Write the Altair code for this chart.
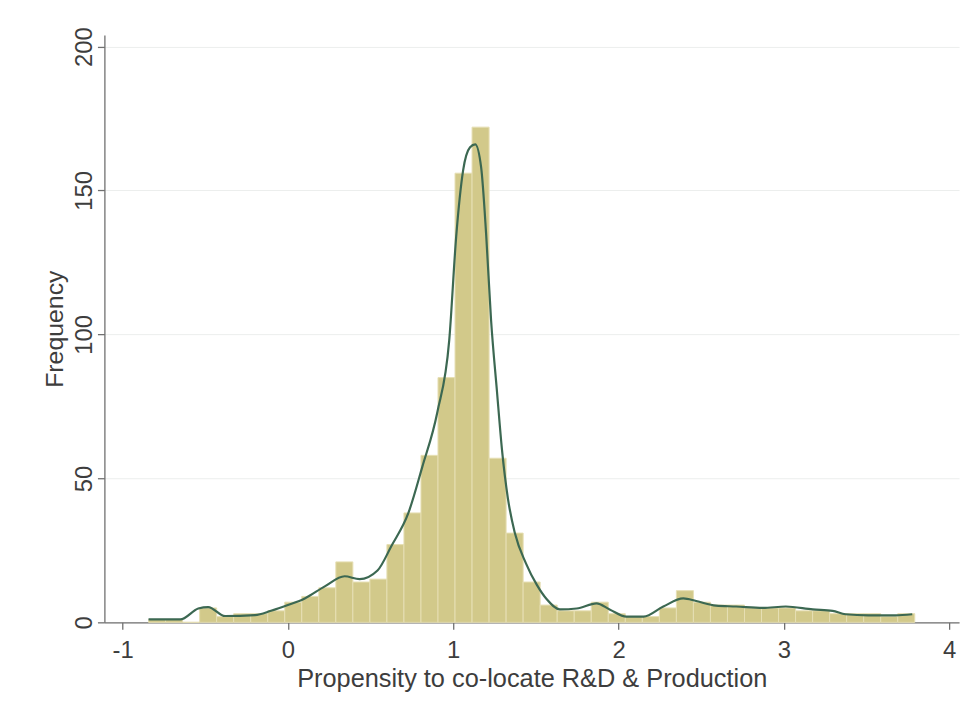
import altair as alt
import pandas as pd

# Histogram: bins of equal width starting at BIN_START
BIN_START = -0.843
BIN_WIDTH = 0.103
FREQ = [1, 1, 0, 5, 2, 3, 3, 4, 7, 9,
        12, 21, 14, 15, 27, 38, 58, 85, 156, 172,
        57, 31, 14, 6, 4, 4, 7, 3, 2, 2,
        5, 11, 7, 6, 6, 5, 5, 5, 4, 4,
        3, 3, 3, 2, 3]

# Kernel density curve (scaled to frequency)
KX = [-0.843, -0.651, -0.542, -0.482, -0.380, -0.199, -0.102, 0.0, 0.102, 0.223,
      0.343, 0.434, 0.542, 0.627, 0.729, 0.813, 0.904, 0.976, 1.018, 1.060,
      1.102, 1.133, 1.169, 1.199, 1.229, 1.265, 1.295, 1.331, 1.373, 1.440,
      1.506, 1.566, 1.645, 1.747, 1.867, 1.946, 2.048, 2.151, 2.271, 2.392,
      2.470, 2.590, 2.711, 2.873, 3.012, 3.175, 3.295, 3.373, 3.512, 3.675, 3.777]
KY = [1, 1, 4.8, 5.3, 2.2, 2.5, 4, 6, 8.3, 12.5,
      16, 15, 18, 26.6, 38, 54, 73, 98, 134, 157,
      165, 166, 158, 135, 105, 80, 60, 43, 31, 20.5,
      13, 8, 4.5, 4.8, 6.6, 4.5, 2, 2, 5.5, 8.3,
      7.4, 5.8, 5.5, 5, 5.5, 4.5, 4, 2.8, 2.4, 2.4, 2.8]

X_TICKS = [-1, 0, 1, 2, 3, 4]
Y_TICKS = [0, 50, 100, 150, 200]

bars = pd.DataFrame({
    "x0": [BIN_START + i * BIN_WIDTH for i in range(len(FREQ))],
    "x1": [BIN_START + (i + 1) * BIN_WIDTH for i in range(len(FREQ))],
    "freq": FREQ,
})
kde = pd.DataFrame({"x": KX, "y": KY})

FONT = "Liberation Sans"
TXT = "#3d3d3d"

xscale = alt.Scale(domain=[-1.11, 4.06], nice=False, zero=False)
yscale = alt.Scale(domain=[0, 204], nice=False)

xaxis = alt.Axis(values=X_TICKS, grid=False, title="Propensity to co-locate R&D & Production",
                 labelExpr="'' + datum.value", tickSize=7, labelPadding=9,
                 titlePadding=5, labelFontSize=24, titleFontSize=25.5)
yaxis = alt.Axis(values=Y_TICKS, grid=True, gridColor="#eceeed", title="Frequency",
                 labelAngle=270, labelAlign="center", labelBaseline="bottom",
                 tickSize=7, labelPadding=1, titlePadding=5,
                 labelFontSize=24, titleFontSize=25)

hist = alt.Chart(bars).mark_bar(
    color="#d2c98a", stroke="#e6dfb3", strokeWidth=1
).encode(
    x=alt.X("x0:Q", scale=xscale, axis=xaxis),
    x2="x1:Q",
    y=alt.Y("freq:Q", scale=yscale, axis=yaxis),
    y2=alt.datum(0),
)

line = alt.Chart(kde).mark_line(
    color="#3c6852", strokeWidth=2.2, interpolate="monotone"
).encode(
    x=alt.X("x:Q", scale=xscale),
    y=alt.Y("y:Q", scale=yscale),
)

chart = alt.layer(hist, line).properties(
    width=860, height=591,
    autosize=alt.AutoSizeParams(type="none"),
    padding={"left": 97, "top": 25, "right": 10, "bottom": 80},
    background="white",
).configure_view(
    stroke=None
).configure_axis(
    labelFont=FONT, titleFont=FONT, labelColor=TXT, titleColor=TXT,
    titleFontWeight="normal", domainColor="#707070", tickColor="#707070",
    domainWidth=1.3, tickWidth=1.3,
)

chart.save("out.html", embed_options={"renderer": "svg", "actions": False})
